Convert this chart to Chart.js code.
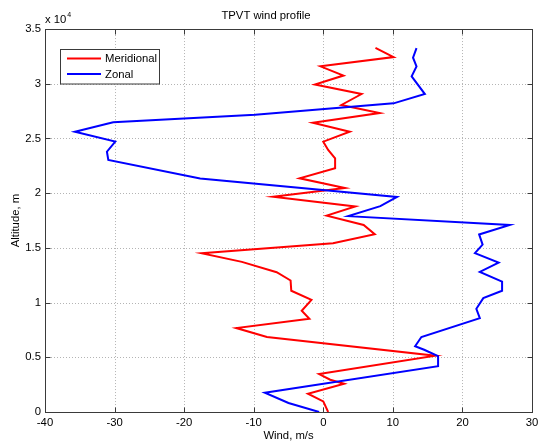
<!DOCTYPE html>
<html>
<head>
<meta charset="utf-8">
<title>TPVT wind profile</title>
<script src="https://cdn.jsdelivr.net/npm/chart.js@4/dist/chart.umd.min.js"></script>
<style>
  html, body { margin: 0; padding: 0; background: #ffffff; }
  canvas { display: block; }
</style>
</head>
<body>
<canvas id="c" width="540" height="443"></canvas>
<script>
// Wind profile: altitude (m) against wind speed (m/s)
const meridionalAlt = [0, 970, 1670, 2580, 2950, 3470, 5140, 6850, 7670, 8520, 9250, 10250,
  11080, 12020, 12780, 13720, 14520, 15430, 16250, 17100, 17950, 18790, 19680, 20480,
  21360, 22280, 23190, 23950, 24710, 25620, 26440, 27330, 28060, 29060, 29930, 30750,
  31590, 32440, 33280];
const meridionalWind = [0.7, 0.0, -2.2, 3.0, 1.0, -0.6, 16.1, -8.1, -12.5, -2.0, -3.1, -1.7,
  -4.6, -4.7, -6.7, -11.7, -17.5, 1.4, 7.4, 5.8, 0.5, 4.6, -7.2, 3.1,
  -3.4, 1.7, 1.7, 0.7, 0.0, 3.8, -1.5, 8.1, 2.6, 5.5, -1.2, 2.9,
  -0.4, 10.1, 7.5];

const zonalAlt = [0, 820, 1760, 4180, 5100, 5690, 6010, 6850, 8580, 9430, 10410, 11080,
  11920, 12810, 13660, 14520, 15300, 16230, 17100, 17900, 18810, 19660, 21350, 23040,
  23790, 24720, 25620, 26480, 27160, 28210, 29060, 30680, 31590, 32390, 33260];
const zonalWind = [-0.6, -5.0, -8.4, 16.5, 16.5, 14.5, 13.2, 14.1, 22.5, 22.0, 23.0, 25.7,
  25.7, 22.5, 25.2, 21.8, 22.9, 22.4, 26.8, 3.6, 8.2, 10.6, -17.7, -30.9,
  -31.1, -29.9, -35.7, -30.2, -9.8, 10.1, 14.6, 12.7, 13.4, 12.9, 13.4];

const seriesNames = ['Meridional', 'Zonal'];
const seriesColors = ['#ff0000', '#0000ff'];

const windTicks = [-40, -30, -20, -10, 0, 10, 20, 30];
const altTicks = [0, 5000, 10000, 15000, 20000, 25000, 30000, 35000];
const altExponent = 4;

const FONT = "'Liberation Sans', Arial, Helvetica, sans-serif";
const FS = 11.3;

function toPoints(xs, ys) {
  return xs.map((x, i) => ({ x: x, y: ys[i] }));
}

// Dotted grid, boxed axes with inward ticks, exponent label and legend
const matlabFrame = {
  id: 'matlabFrame',
  beforeDatasetsDraw(chart) {
    const { ctx, chartArea: a, scales: { x, y } } = chart;
    ctx.save();
    ctx.strokeStyle = '#b4b4b4';
    ctx.lineWidth = 1;
    ctx.setLineDash([1, 2]);
    windTicks.forEach(v => {
      const px = Math.round(x.getPixelForValue(v)) + 0.5;
      if (Math.abs(px - a.left) < 2 || Math.abs(px - a.right) < 2) return;
      ctx.beginPath();
      ctx.moveTo(px, a.top);
      ctx.lineTo(px, a.bottom);
      ctx.stroke();
    });
    altTicks.forEach(v => {
      const py = Math.round(y.getPixelForValue(v)) + 0.5;
      if (Math.abs(py - a.top) < 2 || Math.abs(py - a.bottom) < 2) return;
      ctx.beginPath();
      ctx.moveTo(a.left, py);
      ctx.lineTo(a.right, py);
      ctx.stroke();
    });
    ctx.restore();
  },
  afterDatasetsDraw(chart) {
    const { ctx, chartArea: a, scales: { x, y } } = chart;
    const L = Math.round(a.left) + 0.5, R = Math.round(a.right) + 0.5;
    const T = Math.round(a.top) + 0.5, B = Math.round(a.bottom) + 0.5;
    const tk = 5;
    ctx.save();
    ctx.strokeStyle = '#3a3a3a';
    ctx.lineWidth = 1;
    ctx.setLineDash([]);
    ctx.strokeRect(L, T, R - L, B - T);
    ctx.beginPath();
    windTicks.forEach(v => {
      const px = Math.round(x.getPixelForValue(v)) + 0.5;
      ctx.moveTo(px, B); ctx.lineTo(px, B - tk);
      ctx.moveTo(px, T); ctx.lineTo(px, T + tk);
    });
    altTicks.forEach(v => {
      const py = Math.round(y.getPixelForValue(v)) + 0.5;
      ctx.moveTo(L, py); ctx.lineTo(L + tk, py);
      ctx.moveTo(R, py); ctx.lineTo(R - tk, py);
    });
    ctx.stroke();

    // exponent of the altitude axis
    ctx.fillStyle = '#000';
    ctx.textBaseline = 'middle';
    ctx.textAlign = 'left';
    ctx.font = FS + 'px ' + FONT;
    const base = 'x 10';
    ctx.fillText(base, a.left, 20);
    const w = ctx.measureText(base).width;
    ctx.font = '7px ' + FONT;
    ctx.fillText(String(altExponent), a.left + w + 1, 15.5);
    ctx.restore();
  },
  afterDraw(chart) {
    const { ctx } = chart;
    const bx = 60.5, by = 49.5, bw = 99, bh = 34.5;
    ctx.save();
    ctx.fillStyle = '#ffffff';
    ctx.fillRect(bx, by, bw, bh);
    ctx.strokeStyle = '#3a3a3a';
    ctx.lineWidth = 1;
    ctx.strokeRect(bx, by, bw, bh);
    ctx.font = FS + 'px ' + FONT;
    ctx.textBaseline = 'middle';
    ctx.textAlign = 'left';
    chart.data.datasets.forEach((ds, i) => {
      const ly = 58.5 + i * 15.5;
      ctx.strokeStyle = ds.borderColor;
      ctx.lineWidth = 2;
      ctx.beginPath();
      ctx.moveTo(67, ly);
      ctx.lineTo(101, ly);
      ctx.stroke();
      ctx.fillStyle = '#000';
      ctx.fillText(ds.label, 105, ly + 0.5);
    });
    ctx.restore();
  }
};

new Chart(document.getElementById('c'), {
  type: 'line',
  data: {
    datasets: [
      {
        label: seriesNames[0],
        data: toPoints(meridionalWind, meridionalAlt),
        borderColor: seriesColors[0],
        backgroundColor: seriesColors[0],
        borderWidth: 2,
        pointRadius: 0,
        tension: 0,
        fill: false,
        order: 1
      },
      {
        label: seriesNames[1],
        data: toPoints(zonalWind, zonalAlt),
        borderColor: seriesColors[1],
        backgroundColor: seriesColors[1],
        borderWidth: 2,
        pointRadius: 0,
        tension: 0,
        fill: false,
        order: 0
      }
    ]
  },
  options: {
    responsive: false,
    animation: false,
    events: [],
    layout: { padding: { top: 0, right: 8, left: 0, bottom: 0 } },
    plugins: {
      legend: { display: false },
      tooltip: { enabled: false },
      title: {
        display: true,
        text: 'TPVT wind profile',
        color: '#000',
        font: { family: FONT, size: FS, weight: 'normal' },
        padding: { top: 9.5, bottom: 6 }
      }
    },
    scales: {
      x: {
        type: 'linear',
        min: windTicks[0],
        max: windTicks[windTicks.length - 1],
        afterBuildTicks(s) { s.ticks = windTicks.map(v => ({ value: v })); },
        afterFit(s) { s.height = 31; s.paddingLeft = 0; s.paddingRight = 0; },
        grid: { display: false, drawTicks: false },
        border: { display: false },
        ticks: {
          color: '#000',
          font: { family: FONT, size: FS },
          padding: 4.5,
          maxRotation: 0,
          autoSkip: false
        },
        title: {
          display: true,
          text: 'Wind, m/s',
          color: '#000',
          font: { family: FONT, size: FS },
          padding: { top: 0, bottom: 0 }
        }
      },
      y: {
        type: 'linear',
        min: altTicks[0],
        max: altTicks[altTicks.length - 1],
        afterBuildTicks(s) { s.ticks = altTicks.map(v => ({ value: v })); },
        afterFit(s) { s.width = 45; s.paddingTop = 0; s.paddingBottom = 0; },
        grid: { display: false, drawTicks: false },
        border: { display: false },
        ticks: {
          color: '#000',
          font: { family: FONT, size: FS },
          padding: 4,
          autoSkip: false,
          callback: v => String(v / Math.pow(10, altExponent))
        },
        title: {
          display: true,
          text: 'Altitude, m',
          color: '#000',
          font: { family: FONT, size: FS },
          padding: { top: 9.5, bottom: 0 }
        }
      }
    }
  },
  plugins: [matlabFrame]
});
</script>
</body>
</html>
